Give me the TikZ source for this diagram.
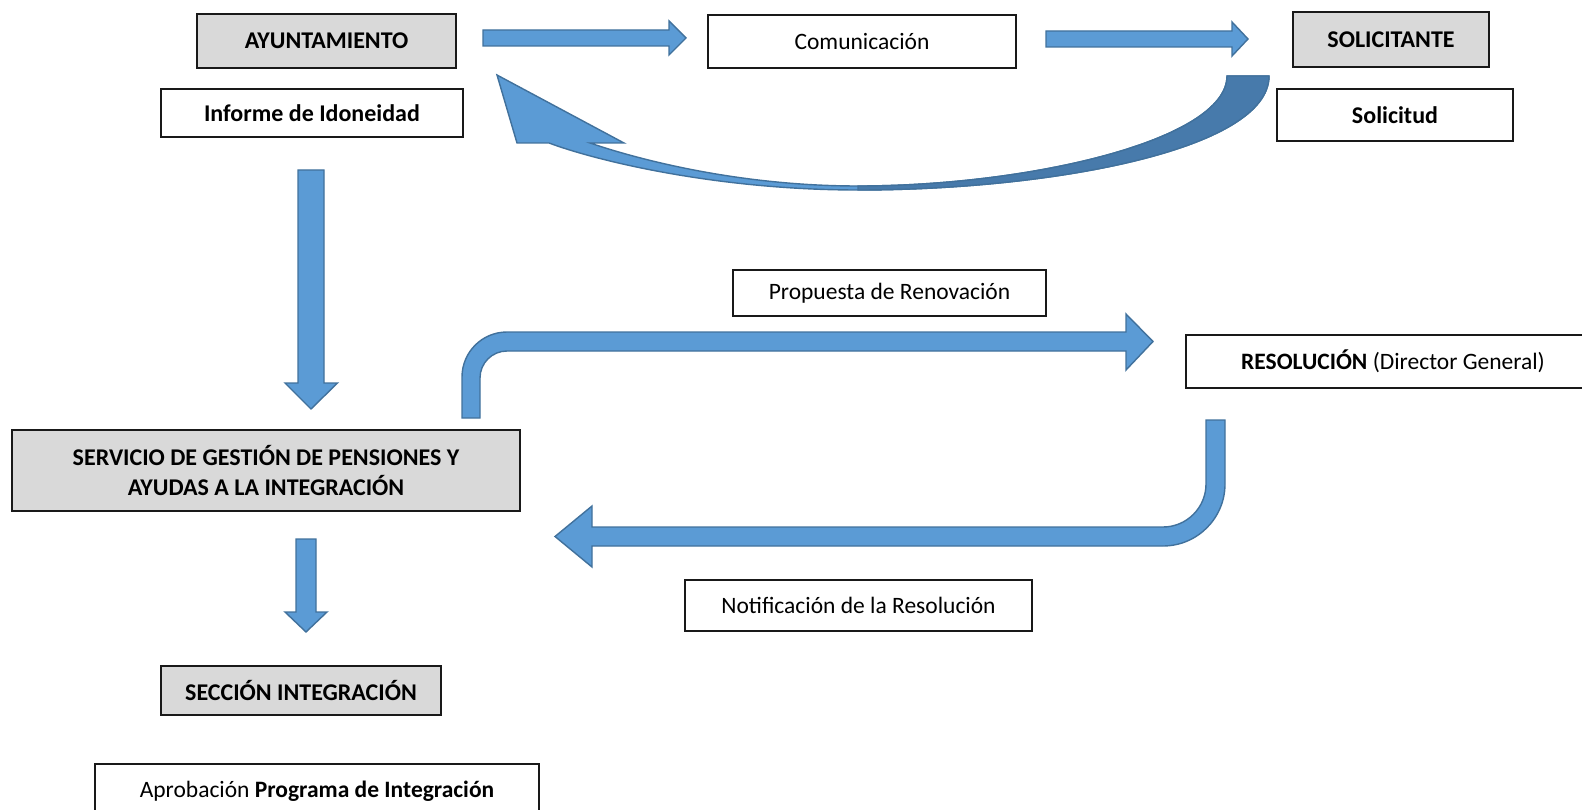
\documentclass[tikz,border=0pt]{standalone}
\usepackage{fontspec}
\setmainfont{Carlito}
\definecolor{arrowfill}{RGB}{91,155,213}
\definecolor{arrowedge}{RGB}{65,113,156}
\definecolor{arrowdark}{RGB}{71,122,171}
\definecolor{boxgray}{RGB}{217,217,217}
\tikzset{
  box/.style={draw=black!90, line width=1.1pt, fill=white, inner sep=0pt, align=center,
              font=\fontsize{23.5}{30}\selectfont},
  bbox/.style={box, font=\fontsize{24}{30}\selectfont\bfseries},
  gbox/.style={bbox, fill=boxgray},
  blockarrow/.style={fill=arrowfill, draw=arrowedge, line width=1.4pt, line join=miter},
  darkpart/.style={fill=arrowdark, draw=arrowedge, line width=1.4pt}
}
\begin{document}
\begin{tikzpicture}[x=1pt, y=-1pt]
\useasboundingbox (0,0) rectangle (1582,810);

% boxes
\node[gbox, minimum width=259pt, minimum height=54pt] (ayto) at (326.5,41) {AYUNTAMIENTO};
\node[bbox, minimum width=302pt, minimum height=48pt] (informe) at (312,113) {Informe de Idoneidad};
\node[box, minimum width=308pt, minimum height=53pt] (comun) at (862,41.5) {Comunicación};
\node[gbox, minimum width=196pt, minimum height=55pt] (solicitante) at (1391,39.5) {SOLICITANTE};
\node[bbox, minimum width=236pt, minimum height=52pt] (solicitud) at (1395,115) {Solicitud};
\node[box, minimum width=313pt, minimum height=46pt] (propuesta) at (889.5,293) {Propuesta de Renovación};
\node[box, minimum width=414pt, minimum height=53pt] (resol) at (1393,361.5) {\textbf{RESOLUCIÓN} (Director General)};
\node[gbox, minimum width=508pt, minimum height=81pt] (servicio) at (266,470.5) {SERVICIO DE GESTIÓN DE PENSIONES Y\\AYUDAS A LA INTEGRACIÓN};
\node[box, minimum width=347pt, minimum height=51pt] (notif) at (858.5,605.5) {Notificación de la Resolución};
\node[gbox, minimum width=280pt, minimum height=49pt] (seccion) at (301,690.5) {SECCIÓN INTEGRACIÓN};
\node[box, minimum width=444pt, minimum height=54pt] (aprob) at (317,791) {Aprobación \textbf{Programa de Integración}};

% straight right arrows
\draw[blockarrow] (483,30) -- (669,30) -- (669,21) -- (686,38) -- (669,55) -- (669,46) -- (483,46) -- cycle;
\draw[blockarrow] (1046,31) -- (1232,31) -- (1232,22) -- (1248,39) -- (1232,56) -- (1232,47) -- (1046,47) -- cycle;

% down arrows
\draw[blockarrow] (298,170) -- (324,170) -- (324,383) -- (337.5,383) -- (311,409) -- (285,383) -- (298,383) -- cycle;
\draw[blockarrow] (296,539) -- (316,539) -- (316,612) -- (327,612) -- (306,632) -- (285,612) -- (296,612) -- cycle;

% curved return arrow (Solicitante -> Ayuntamiento)
\draw[blockarrow] (1269,76) .. controls (1269,150) and (1050,190) .. (858,190)
   .. controls (720,190) and (600,162) .. (549,143) -- (517,143) -- (497,75) -- (624,143) -- (590,143)
   .. controls (640,160) and (740,186) .. (858,186)
   .. controls (1030,186) and (1227,140) .. (1227,76) -- cycle;
\draw[darkpart] (1269,76) .. controls (1269,150) and (1050,190) .. (858,190) -- (858,186)
   .. controls (1030,186) and (1227,140) .. (1227,76) -- cycle;

% bent arrow: Servicio -> Resolucion
\draw[blockarrow] (462,418) -- (462,377) .. controls (462,352.1) and (482.1,332) .. (507,332)
   -- (1126,332) -- (1126,314) -- (1153,341.5) -- (1126,370) -- (1126,351) -- (507,351)
   .. controls (492.1,351) and (480,363.1) .. (480,378) -- (480,418) -- cycle;

% bent arrow: Resolucion -> Servicio
\draw[blockarrow] (1206,420) -- (1206,484) .. controls (1206,507.7) and (1186.7,527) .. (1163,527)
   -- (592,527) -- (592,506) -- (555,536.5) -- (592,567) -- (592,546) -- (1163,546)
   .. controls (1197.2,546) and (1225,518.2) .. (1225,484) -- (1225,420) -- cycle;
\end{tikzpicture}
\end{document}
